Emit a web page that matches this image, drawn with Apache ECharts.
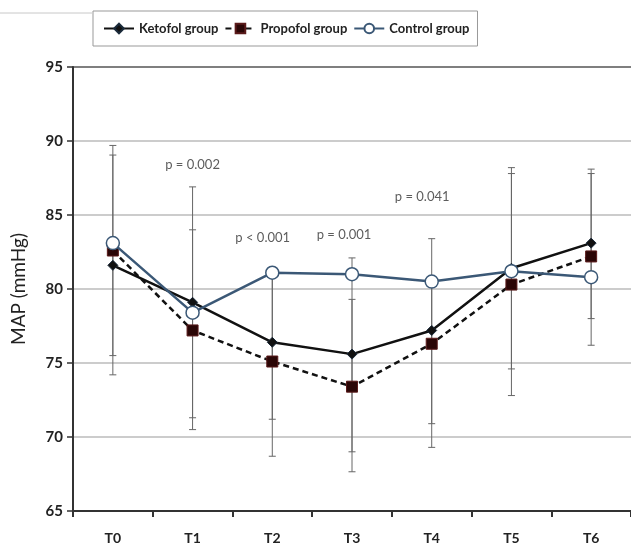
<!DOCTYPE html>
<html>
<head>
<meta charset="utf-8">
<script src="https://cdn.jsdelivr.net/npm/echarts@6/dist/echarts.min.js"></script>
<style>html,body{margin:0;padding:0;background:#fff;}#c{width:631px;height:545px;}</style>
</head>
<body>
<div id="c"></div>
<script>
const categories = ['T0','T1','T2','T3','T4','T5','T6'];
const ketofol = [81.6, 79.1, 76.4, 75.6, 77.2, 81.4, 83.1];
const propofol = [82.6, 77.2, 75.1, 73.4, 76.3, 80.3, 82.2];
const control = [83.1, 78.4, 81.1, 81.0, 80.5, 81.2, 80.8];
// error bar ranges: [category index, low, high]
const errorBars = [
  [0, 75.5, 89.05], [0, 74.2, 89.7],
  [1, 71.3, 84.0], [1, 70.5, 86.9],
  [2, 71.2, 81.1], [2, 68.7, 81.1],
  [3, 69.0, 79.3], [3, 67.65, 82.1],
  [4, 70.9, 80.5], [4, 69.3, 83.4],
  [5, 74.6, 87.8], [5, 72.8, 88.2],
  [6, 78.0, 87.8], [6, 76.2, 88.1]
];
const pLabels = ['p = 0.002', 'p < 0.001', 'p = 0.001', 'p = 0.041'];
const pX = [1.0, 1.88, 2.9, 3.88];
const pY = [88.4, 83.45, 83.65, 86.2];
const yMin = 65, yMax = 95, yStep = 5;

const font = 'Lato, "Open Sans", sans-serif';
const chart = echarts.init(document.getElementById('c'));
chart.setOption({
  animation: false,
  backgroundColor: '#fff',
  graphic: [{
    type: 'line', shape: {x1: 0, y1: 13, x2: 92, y2: 13},
    style: {stroke: '#c8c8c8', lineWidth: 1}
  }],
  legend: {
    left: 93, top: 11,
    data: ['Ketofol group', 'Propofol group', 'Control group'],
    borderColor: '#999', borderWidth: 1,
    padding: [11, 8, 11, 10],
    itemWidth: 30, itemHeight: 12, itemGap: 6,
    textStyle: {fontFamily: font, fontSize: 13, fontWeight: 'bold', color: '#222'}
  },
  grid: {left: 73, top: 67, width: 560, height: 444},
  xAxis: [{
    type: 'category', data: categories, boundaryGap: true,
    axisLine: {lineStyle: {color: '#333', width: 2}},
    axisTick: {show: true, length: 6, lineStyle: {color: '#333', width: 2}},
    axisLabel: {fontFamily: font, fontSize: 14, fontWeight: 'bold', color: '#222', margin: 20},
    splitLine: {show: false}
  }, {
    type: 'value', min: -0.5, max: 6.5, show: false
  }],
  yAxis: {
    type: 'value', min: yMin, max: yMax, interval: yStep,
    name: 'MAP (mmHg)', nameLocation: 'middle', nameGap: 45,
    nameTextStyle: {fontFamily: font, fontSize: 19, color: '#222'},
    axisLine: {show: true, onZero: false, lineStyle: {color: '#333', width: 2}},
    axisTick: {show: true, length: 6, lineStyle: {color: '#333', width: 1.5}},
    axisLabel: {fontFamily: font, fontSize: 15, fontWeight: 'bold', color: '#222', margin: 10},
    splitLine: {lineStyle: {color: ['#bbb','#bbb','#bbb','#bbb','#bbb','#bbb','#555'], width: 1.5}}
  },
  series: [{
    type: 'custom', name: 'err', silent: true, z: 1,
    renderItem: function (params, api) {
      const x = api.value(0);
      const lo = api.coord([x, api.value(1)]);
      const hi = api.coord([x, api.value(2)]);
      const w = 3.5;
      const st = {stroke: '#666', lineWidth: 1};
      return {type: 'group', children: [
        {type: 'line', shape: {x1: lo[0], y1: lo[1], x2: hi[0], y2: hi[1]}, style: st},
        {type: 'line', shape: {x1: lo[0]-w, y1: lo[1], x2: lo[0]+w, y2: lo[1]}, style: st},
        {type: 'line', shape: {x1: hi[0]-w, y1: hi[1], x2: hi[0]+w, y2: hi[1]}, style: st}
      ]};
    },
    encode: {x: 0, y: [1, 2]},
    data: errorBars
  }, {
    name: 'Ketofol group', type: 'line', data: ketofol, z: 3,
    symbol: 'diamond', symbolSize: 10,
    lineStyle: {color: '#111', width: 2.5},
    itemStyle: {color: '#111', borderColor: '#1a2a3a', borderWidth: 1}
  }, {
    name: 'Propofol group', type: 'line', data: propofol, z: 4,
    symbol: 'rect', symbolSize: 11,
    lineStyle: {color: '#111', width: 2.5, type: [6, 4]},
    itemStyle: {color: '#2a0606', borderColor: '#5a1a1a', borderWidth: 1}
  }, {
    name: 'Control group', type: 'line', data: control, z: 5,
    symbol: 'circle', symbolSize: 13,
    lineStyle: {color: '#3b5876', width: 2.5},
    itemStyle: {color: '#fff', borderColor: '#3b5876', borderWidth: 1.5}
  }, {
    type: 'scatter', xAxisIndex: 1, silent: true, z: 6,
    symbolSize: 0,
    data: pLabels.map((t, i) => ({name: t, value: [pX[i], pY[i]]})),
    label: {show: true, position: 'inside', formatter: '{b}',
      fontFamily: font, fontSize: 13, color: '#333'}
  }]
});
</script>
</body>
</html>
